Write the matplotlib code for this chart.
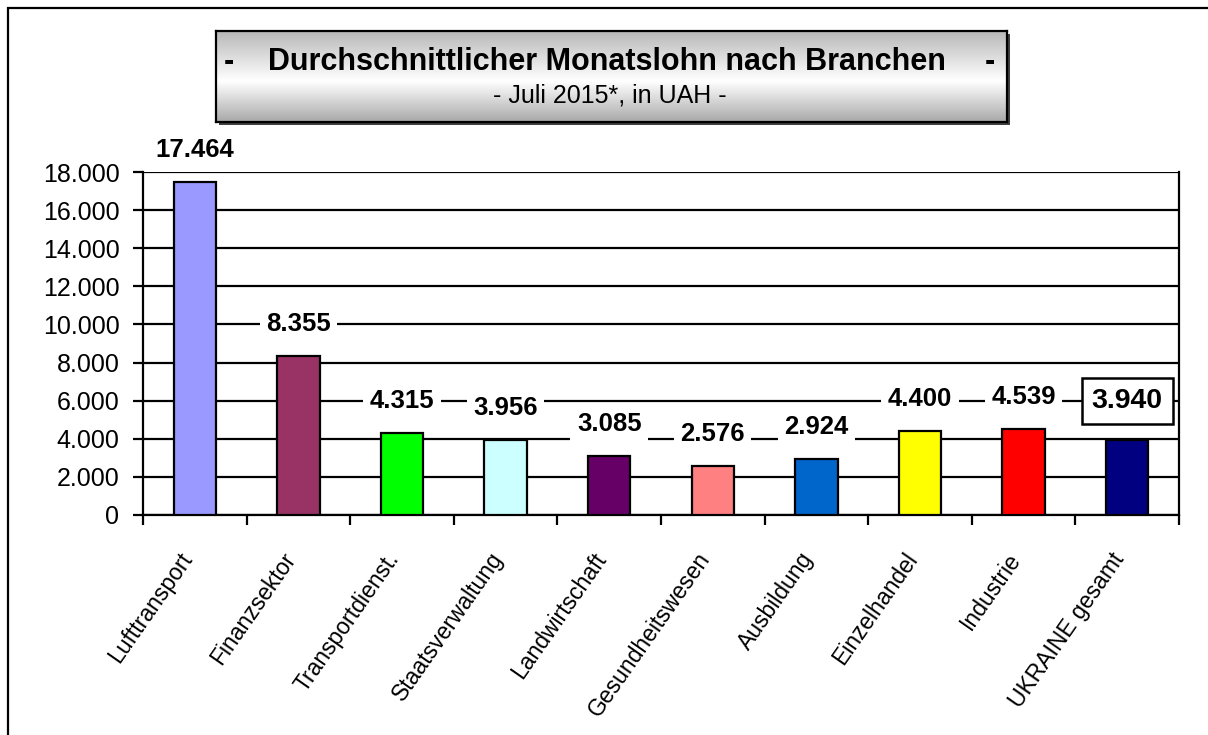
import numpy as np
import matplotlib
matplotlib.use("Agg")
import matplotlib.pyplot as plt
from matplotlib.patches import Rectangle
from matplotlib.transforms import ScaledTranslation

plt.rcParams['font.family'] = ['Liberation Sans', 'DejaVu Sans']

# data
branchen = ['Lufttransport', 'Finanzsektor', 'Transportdienst.', 'Staatsverwaltung',
            'Landwirtschaft', 'Gesundheitswesen', 'Ausbildung', 'Einzelhandel',
            'Industrie', 'UKRAINE gesamt']
lohn = [17464, 8355, 4315, 3956, 3085, 2576, 2924, 4400, 4539, 3940]
farben = ['#9999FF', '#993366', '#00FF00', '#CCFFFF', '#660066',
          '#FF8080', '#0066CC', '#FFFF00', '#FF0000', '#000080']
y_ticks = [0, 2000, 4000, 6000, 8000, 10000, 12000, 14000, 16000, 18000]

W, H = 1208, 735
fig = plt.figure(figsize=(W / 100, H / 100), dpi=100)

def fx(px):
    return px / W

def fy(py):
    return 1 - py / H

# outer frame (cut at right and bottom like the original)
fig.patches.append(Rectangle((fx(8), -0.05), 1.2, fy(8) + 0.05, transform=fig.transFigure,
                             fill=False, edgecolor='black', linewidth=1.6, zorder=0))

# main axes
ax = fig.add_axes([fx(143), fy(515), fx(1179) - fx(143), fy(172) - fy(515)])
x = np.arange(len(branchen))
ax.bar(x, lohn, width=0.41, color=farben, edgecolor='black', linewidth=1.6, zorder=3)
ax.set_xlim(-0.5, len(branchen) - 0.5)
ax.set_ylim(0, 18000)
ax.set_yticks(y_ticks)
ax.set_yticklabels(['{:,}'.format(v).replace(',', '.') for v in y_ticks], fontsize=18)
ax.yaxis.grid(True, color='black', linewidth=1.6, zorder=0)
ax.set_axisbelow(True)
for s in ['left', 'bottom', 'right']:
    ax.spines[s].set_linewidth(1.6)
ax.spines['top'].set_visible(False)
ax.tick_params(axis='y', length=7, width=1.6, pad=10)

ax.set_xticks(x)
ax.set_xticklabels(branchen, rotation=55, ha='right', rotation_mode='anchor', fontsize=16.5)
ax.tick_params(axis='x', which='major', length=0, pad=24)
ax.set_xticks(np.arange(-0.5, len(branchen)), minor=True)
ax.tick_params(axis='x', which='minor', length=7, width=1.6)
shift = ScaledTranslation(-17 / 100, 0, fig.dpi_scale_trans)
for lab in ax.get_xticklabels():
    lab.set_transform(lab.get_transform() + shift)

# value labels with white background
for i, v in enumerate(lohn):
    txt = '{:,}'.format(v).replace(',', '.')
    if i == len(lohn) - 1:
        box = dict(boxstyle='square,pad=0.35', facecolor='white', edgecolor='black', linewidth=1.8)
        ax.annotate(txt, (i, v), xytext=(0, 28), textcoords='offset points',
                    ha='center', va='center', fontsize=20.5, fontweight='bold',
                    bbox=box, zorder=5, annotation_clip=False)
    else:
        box = dict(boxstyle='square,pad=0.25', facecolor='white', edgecolor='none')
        ax.annotate(txt, (i, v), xytext=(0, 23), textcoords='offset points',
                    ha='center', va='center', fontsize=18.5, fontweight='bold',
                    bbox=box, zorder=5, annotation_clip=False)

# title box with grey gradient and shadow
bx0, bx1, by0, by1 = 216, 1007, 31, 122
shadow = fig.add_axes([fx(bx0 + 3), fy(by1 + 3), fx(bx1) - fx(bx0), fy(by0) - fy(by1)])
shadow.set_facecolor('#404040')
shadow.set_xticks([])
shadow.set_yticks([])
for s in shadow.spines.values():
    s.set_visible(False)
tax = fig.add_axes([fx(bx0), fy(by1), fx(bx1) - fx(bx0), fy(by0) - fy(by1)])
t = np.linspace(0, 1, 200)
grad = np.where(t < 0.55, 0.72 + 0.28 * (t / 0.55), 1.0 - 0.34 * ((t - 0.55) / 0.45))
tax.imshow(np.tile(grad[:, None], (1, 10)), cmap='gray', vmin=0, vmax=1,
           aspect='auto', extent=[0, 1, 0, 1])
tax.set_xticks([])
tax.set_yticks([])
for s in tax.spines.values():
    s.set_linewidth(1.6)

fig.text(fx(229), fy(62), '-', fontsize=22, fontweight='bold', ha='center', va='center')
fig.text(fx(607), fy(62), 'Durchschnittlicher Monatslohn nach Branchen',
         fontsize=22, fontweight='bold', ha='center', va='center')
fig.text(fx(990), fy(62), '-', fontsize=22, fontweight='bold', ha='center', va='center')
fig.text(fx(610), fy(96), '- Juli 2015*, in UAH -', fontsize=18, ha='center', va='center')

fig.savefig('out.png', dpi=100, facecolor='white')
